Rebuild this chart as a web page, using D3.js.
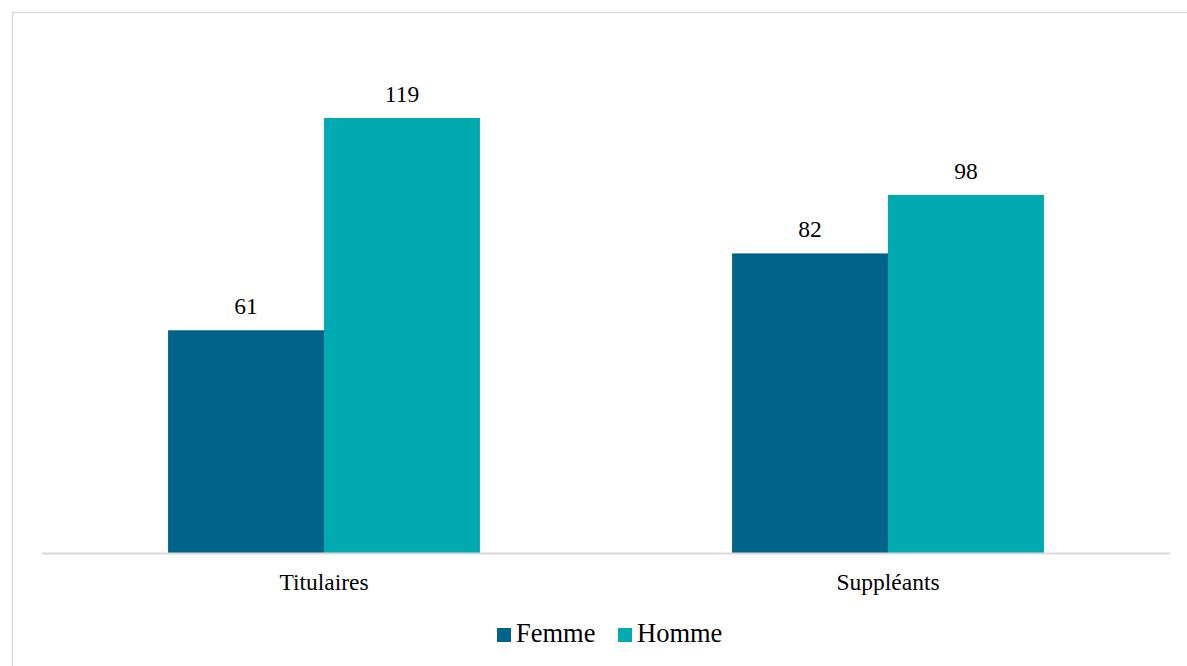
<!DOCTYPE html>
<html>
<head>
<meta charset="utf-8">
<script src="https://cdn.jsdelivr.net/npm/d3@7"></script>
<style>
html,body{margin:0;padding:0;background:#fff;overflow:hidden;}
svg{display:block;}
</style>
</head>
<body>
<svg id="chart" width="1187" height="666"></svg>
<script>
const categories = ["Titulaires", "Suppléants"];
const seriesNames = ["Femme", "Homme"];
const femme = [61, 82];
const homme = [119, 98];
const colors = ["#006388", "#00AAB0"];

const FONT = "'Liberation Serif', 'Times New Roman', 'DejaVu Serif', serif";

const svg = d3.select("#chart");

// outer frame
svg.append("rect").attr("x", 12.5).attr("y", 12.5).attr("width", 1200).attr("height", 700)
  .attr("fill", "#fff").attr("stroke", "#d9d9d9").attr("stroke-width", 1.5);

const left = 42, right = 1170, baseY = 553.5;

const x0 = d3.scaleBand().domain(categories).range([left, right])
  .paddingInner(0.447).paddingOuter(0.2235);
const x1 = d3.scaleBand().domain(seriesNames).range([0, x0.bandwidth()]).padding(0);
const y = d3.scaleLinear().domain([0, 119]).range([baseY, 118]);

const data = categories.map((c, i) => ({cat: c, vals: [femme[i], homme[i]]}));

const g = svg.append("g");
const groups = g.selectAll("g.grp").data(data).join("g")
  .attr("transform", d => `translate(${x0(d.cat)},0)`);

groups.selectAll("rect").data(d => d.vals.map((v, j) => ({s: seriesNames[j], v, j})))
  .join("rect")
  .attr("x", d => x1(d.s))
  .attr("width", x1.bandwidth())
  .attr("y", d => y(d.v))
  .attr("height", d => baseY - y(d.v))
  .attr("fill", d => colors[d.j]);

groups.selectAll("text.lbl").data(d => d.vals.map((v, j) => ({s: seriesNames[j], v, j})))
  .join("text").attr("class", "lbl")
  .attr("x", d => x1(d.s) + x1.bandwidth() / 2)
  .attr("y", d => y(d.v) - 16)
  .attr("text-anchor", "middle")
  .style("font-family", FONT)
  .style("font-size", "23.5px")
  .style("fill", "#000")
  .text(d => d.v);

// x axis
const xAxis = d3.axisBottom(x0).tickSize(0).tickPadding(0);
const axG = svg.append("g").attr("transform", `translate(0,${baseY})`).call(xAxis);
axG.attr("font-family", null).attr("font-size", null);
axG.select(".domain").attr("stroke", "#d9d9d9").attr("stroke-width", 2)
  .attr("d", `M${left},0H${right}`);
axG.selectAll(".tick text").attr("dy", 0).attr("y", 36.5)
  .style("font-family", FONT).style("font-size", "23.5px").style("fill", "#000");

// legend
const legend = svg.append("g");
const legX = [497, 618];
seriesNames.forEach((s, i) => {
  legend.append("rect").attr("x", legX[i]).attr("y", 628).attr("width", 14).attr("height", 14)
    .attr("fill", colors[i]);
  legend.append("text").attr("x", legX[i] + 19).attr("y", 642)
    .style("font-family", FONT).style("font-size", "26.5px").style("fill", "#000").text(s);
});
</script>
</body>
</html>
